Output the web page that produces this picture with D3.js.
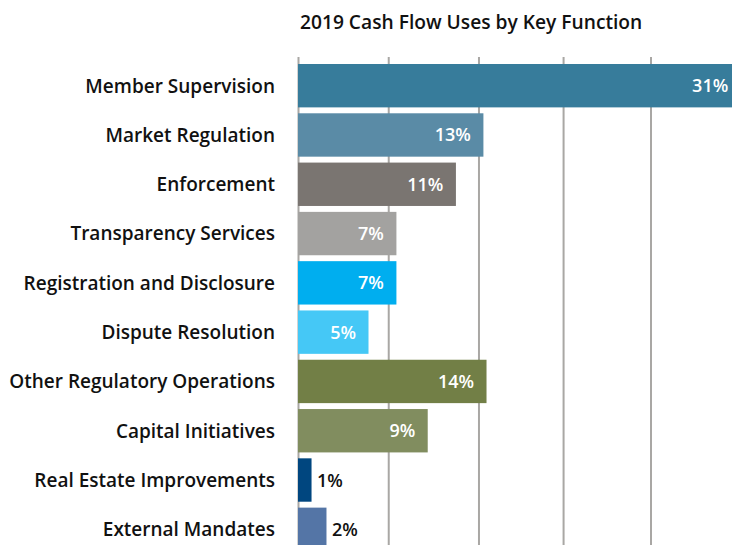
<!DOCTYPE html>
<html>
<head>
<meta charset="utf-8">
<script src="https://cdn.jsdelivr.net/npm/d3@7"></script>
<style>
  body { margin: 0; background: #fff; }
  svg { display: block; font-family: "Open Sans", sans-serif; }
</style>
</head>
<body>
<div id="chart"></div>
<script>
// data
var categories = ["Member Supervision", "Market Regulation", "Enforcement", "Transparency Services",
  "Registration and Disclosure", "Dispute Resolution", "Other Regulatory Operations",
  "Capital Initiatives", "Real Estate Improvements", "External Mandates"];
var values = [31.4, 13.15, 11.2, 6.98, 6.98, 5.0, 13.37, 9.2, 0.96, 2.02];
var valueLabels = ["31%", "13%", "11%", "7%", "7%", "5%", "14%", "9%", "1%", "2%"];
var barColors = ["#377c9b", "#5a8ba6", "#7a7571", "#a3a2a0", "#00aeef", "#45c8f6",
  "#727f46", "#818d5f", "#00467f", "#5475a6"];
var gridTicks = [0, 6.4, 12.8, 18.8, 25];

var width = 732, height = 545;

var svg = d3.select("#chart").append("svg")
    .attr("width", width)
    .attr("height", height);

var xScale = d3.scaleLinear()
    .domain([0, 30])
    .range([298.5, 298.5 + 30 * 14.1]);

var yScale = d3.scaleBand()
    .domain(categories)
    .range([64, 551])
    .paddingInner(0.12)
    .paddingOuter(0);

// title
svg.append("text")
    .attr("x", 300)
    .attr("y", 29)
    .style("font-size", "19.2px")
    .style("font-weight", 600)
    .attr("fill", "#111")
    .text("2019 Cash Flow Uses by Key Function");

// gridlines
svg.append("g")
    .selectAll("line")
    .data(gridTicks)
    .join("line")
    .attr("x1", d => xScale(d))
    .attr("x2", d => xScale(d))
    .attr("y1", 57)
    .attr("y2", height)
    .attr("stroke", "#a9a7a4")
    .attr("stroke-width", 2);

// bars
var rows = categories.map((c, i) => ({cat: c, value: values[i], label: valueLabels[i], color: barColors[i]}));

svg.append("g")
    .selectAll("rect")
    .data(rows)
    .join("rect")
    .attr("x", xScale(0) - 0.5)
    .attr("y", d => yScale(d.cat))
    .attr("height", yScale.bandwidth())
    .attr("width", d => xScale(d.value) - xScale(0))
    .attr("fill", d => d.color);

// value labels
svg.append("g")
    .selectAll("text")
    .data(rows)
    .join("text")
    .attr("x", d => d.value > 3 ? xScale(d.value) - 13 : xScale(d.value) + 5)
    .attr("y", d => yScale(d.cat) + yScale.bandwidth() / 2)
    .attr("dy", "0.36em")
    .attr("text-anchor", d => d.value > 3 ? "end" : "start")
    .style("font-size", "18px")
    .style("font-weight", 600)
    .attr("fill", d => d.value > 3 ? "#fff" : "#111")
    .text(d => d.label);

// category labels
svg.append("g")
    .selectAll("text")
    .data(rows)
    .join("text")
    .attr("x", 275)
    .attr("y", d => yScale(d.cat) + yScale.bandwidth() / 2)
    .attr("dy", "0.36em")
    .attr("text-anchor", "end")
    .style("font-size", "19px")
    .style("font-weight", 600)
    .attr("fill", "#111")
    .text(d => d.cat);
</script>
</body>
</html>
